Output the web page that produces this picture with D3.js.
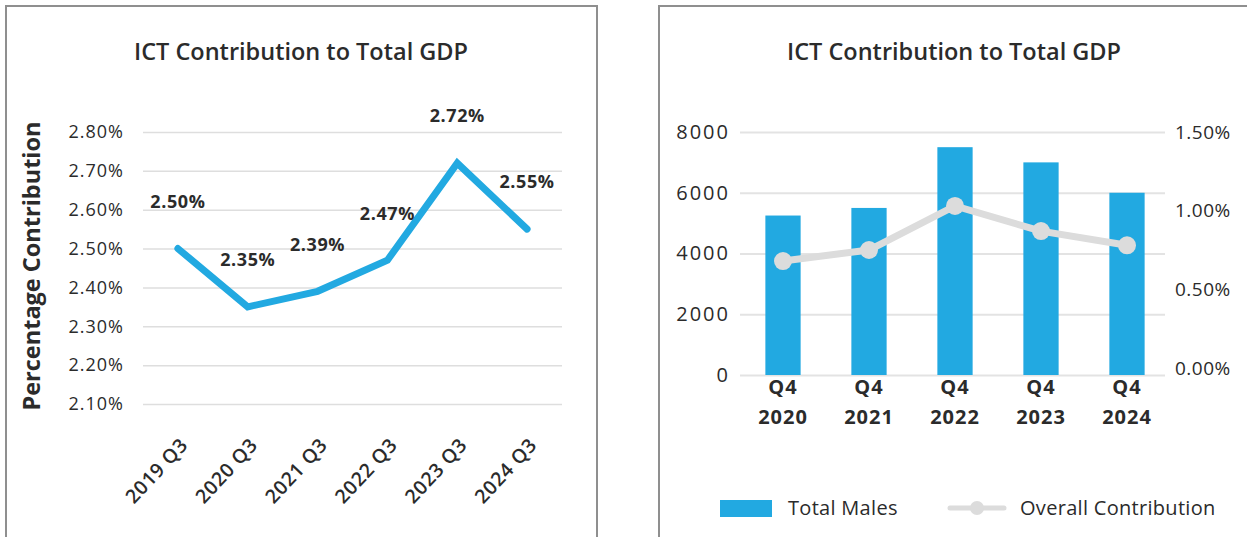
<!DOCTYPE html>
<meta charset="utf-8" />
<style>
  body { margin: 0; background: #fff; }
  text { font-family: "Open Sans", Lato, sans-serif; fill: #2b2b2b; }
</style>
<svg width="1247" height="537"></svg>
<script src="https://d3js.org/d3.v7.min.js"></script>
<script>
  // left chart data
  var quarters = ["2019 Q3", "2020 Q3", "2021 Q3", "2022 Q3", "2023 Q3", "2024 Q3"];
  var contribution = [2.50, 2.35, 2.39, 2.47, 2.72, 2.55];
  var leftTicks = [2.1, 2.2, 2.3, 2.4, 2.5, 2.6, 2.7, 2.8];

  // right chart data
  var years = ["2020", "2021", "2022", "2023", "2024"];
  var totalMales = [5250, 5500, 7500, 7000, 6000];
  var overall = [0.68, 0.75, 1.03, 0.87, 0.78];
  var countTicks = [0, 2000, 4000, 6000, 8000];
  var pctTicks = [0, 0.5, 1.0, 1.5];

  var svg = d3.select("svg");
  var blue = "#22a9e1";
  var grey = "#dcdcdc";
  var pct = function (d) { return d.toFixed(2) + "%"; };

  // panel frames
  svg.append("rect").attr("x", 6).attr("y", 6).attr("width", 591).attr("height", 560)
    .attr("fill", "none").attr("stroke", "#8f8f8f").attr("stroke-width", 2);
  svg.append("rect").attr("x", 659).attr("y", 6).attr("width", 640).attr("height", 560)
    .attr("fill", "none").attr("stroke", "#8f8f8f").attr("stroke-width", 2);

  // ---------- left chart ----------
  var left = svg.append("g");
  left.append("text").attr("x", 301).attr("y", 60).attr("text-anchor", "middle")
    .style("font-size", "23.5px").style("font-weight", 600).text("ICT Contribution to Total GDP");

  var x1 = d3.scaleBand().domain(quarters).range([143, 562]);
  var y1 = d3.scaleLinear().domain([2.1, 2.8]).range([404, 132]);

  var yAxis1 = left.append("g").attr("transform", "translate(143,0)")
    .call(d3.axisLeft(y1).tickValues(leftTicks).tickSize(-419).tickPadding(19).tickFormat(pct));
  yAxis1.select(".domain").remove();
  yAxis1.selectAll("line").attr("stroke", "#dedede").attr("stroke-width", 1.5);
  yAxis1.selectAll("text").style("font-size", "18px").style("letter-spacing", "1px")
    .attr("fill", "#2b2b2b").style("font-family", "'Open Sans', sans-serif");

  left.append("text")
    .attr("transform", "translate(32,266) rotate(-90)")
    .attr("text-anchor", "middle").attr("dy", "0.35em")
    .style("font-size", "23.5px").style("font-weight", "bold")
    .text("Percentage Contribution");

  left.selectAll(".xl").data(quarters).enter().append("text")
    .attr("class", "xl")
    .attr("text-anchor", "end")
    .attr("transform", function (d) {
      return "translate(" + (x1(d) + x1.bandwidth() / 2 + 11) + ",446) rotate(-47)";
    })
    .style("font-size", "19.5px").style("font-weight", 600).style("letter-spacing", "0.6px")
    .text(function (d) { return d; });

  var line1 = d3.line()
    .x(function (d, i) { return x1(quarters[i]) + x1.bandwidth() / 2; })
    .y(function (d) { return y1(d); });

  left.append("path").datum(contribution)
    .attr("d", line1).attr("fill", "none")
    .attr("stroke", blue).attr("stroke-width", 7)
    .attr("stroke-linejoin", "miter").attr("stroke-linecap", "round");

  left.selectAll(".lbl").data(contribution).enter().append("text")
    .attr("x", function (d, i) { return x1(quarters[i]) + x1.bandwidth() / 2; })
    .attr("y", function (d) { return y1(d) - 47; })
    .attr("dy", "0.35em").attr("text-anchor", "middle")
    .style("font-size", "18px").style("font-weight", "bold").style("letter-spacing", "0.6px")
    .text(pct);

  // ---------- right chart ----------
  var right = svg.append("g");
  right.append("text").attr("x", 954).attr("y", 60).attr("text-anchor", "middle")
    .style("font-size", "23.5px").style("font-weight", 600).text("ICT Contribution to Total GDP");

  var x2 = d3.scaleBand().domain(years).range([740, 1170]).paddingInner(0.59).paddingOuter(0.295);
  var y2 = d3.scaleLinear().domain([0, 8000]).range([375, 132]);
  var y3 = d3.scaleLinear().domain([0, 1.5]).range([368, 132]);

  var yAxis2 = right.append("g").attr("transform", "translate(740,0)")
    .call(d3.axisLeft(y2).tickValues(countTicks).tickSize(-425).tickPadding(10).tickFormat(d3.format("d")));
  yAxis2.select(".domain").remove();
  yAxis2.selectAll("line").attr("stroke", "#e3e3e3").attr("stroke-width", 2);
  yAxis2.selectAll("text").style("font-size", "20px").style("letter-spacing", "2px")
    .attr("fill", "#2b2b2b").style("font-family", "'Open Sans', sans-serif");

  var yAxis3 = right.append("g").attr("transform", "translate(1165,0)")
    .call(d3.axisRight(y3).tickValues(pctTicks).tickSize(0).tickPadding(10).tickFormat(pct));
  yAxis3.select(".domain").remove();
  yAxis3.selectAll("text").style("font-size", "19px").style("letter-spacing", "0.5px")
    .attr("fill", "#2b2b2b").style("font-family", "'Open Sans', sans-serif");

  right.selectAll(".bar").data(totalMales).enter().append("rect")
    .attr("x", function (d, i) { return x2(years[i]); })
    .attr("width", x2.bandwidth())
    .attr("y", function (d) { return y2(d); })
    .attr("height", function (d) { return y2(0) - y2(d); })
    .attr("fill", blue);

  var cx = function (d, i) { return x2(years[i]) + x2.bandwidth() / 2; };
  var line2 = d3.line().x(cx).y(function (d) { return y3(d); });
  right.append("path").datum(overall).attr("d", line2)
    .attr("fill", "none").attr("stroke", grey).attr("stroke-width", 7);
  right.selectAll(".dot").data(overall).enter().append("circle")
    .attr("cx", cx).attr("cy", function (d) { return y3(d); })
    .attr("r", 9).attr("fill", grey);

  right.selectAll(".q").data(years).enter().append("text")
    .attr("x", function (d) { return x2(d) + x2.bandwidth() / 2; })
    .attr("y", 394).attr("text-anchor", "middle")
    .style("font-size", "20px").style("font-weight", "bold").style("letter-spacing", "1px").text("Q4");
  right.selectAll(".yr").data(years).enter().append("text")
    .attr("x", function (d) { return x2(d) + x2.bandwidth() / 2; })
    .attr("y", 424).attr("text-anchor", "middle")
    .style("font-size", "20px").style("font-weight", "bold").style("letter-spacing", "1px")
    .text(function (d) { return d; });

  // legend
  var legend = right.append("g");
  legend.append("rect").attr("x", 720).attr("y", 500).attr("width", 52).attr("height", 17).attr("fill", blue);
  legend.append("text").attr("x", 788).attr("y", 508).attr("dy", "0.35em")
    .style("font-size", "20px").style("letter-spacing", "0.3px").text("Total Males");
  legend.append("line").attr("x1", 950).attr("x2", 1004).attr("y1", 508).attr("y2", 508)
    .attr("stroke", grey).attr("stroke-width", 5).attr("stroke-linecap", "round");
  legend.append("circle").attr("cx", 977).attr("cy", 508).attr("r", 7).attr("fill", grey);
  legend.append("text").attr("x", 1020).attr("y", 508).attr("dy", "0.35em")
    .style("font-size", "20px").style("letter-spacing", "0.3px").text("Overall Contribution");
</script>
